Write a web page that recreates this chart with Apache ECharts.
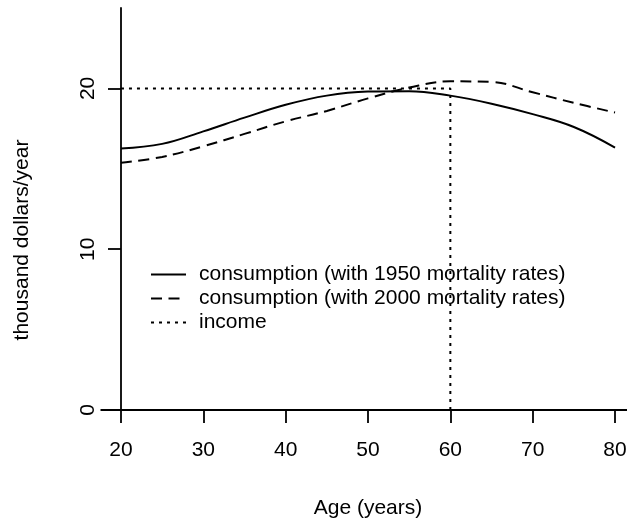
<!DOCTYPE html>
<html>
<head>
<meta charset="utf-8">
<script src="https://cdn.jsdelivr.net/npm/echarts@6/dist/echarts.min.js"></script>
<style>
html,body{margin:0;padding:0;background:#fff;}
#chart{width:627px;height:528px;}
</style>
</head>
<body>
<div id="chart"></div>
<script>
// ---- data ----
const ages1950 = [20, 25, 30, 35, 40, 45, 50, 55, 60, 65, 70, 75, 80];
const cons1950 = [16.26, 16.55, 17.33, 18.18, 18.98, 19.55, 19.8, 19.83, 19.55, 19.05, 18.4, 17.6, 16.32];
const ages2000 = [20, 25, 30, 35, 40, 45, 50, 55, 60, 65, 70, 75, 80];
const cons2000 = [15.37, 15.74, 16.4, 17.17, 17.95, 18.6, 19.38, 20.05, 20.44, 20.4, 19.76, 19.1, 18.5];
const incomeAges = [20, 60, 60, 80];
const incomeVals = [20, 20, 0, 0];
const xTicks = [20, 30, 40, 50, 60, 70, 80];
const yTicks = [0, 10, 20];
const seriesNames = ['consumption (with 1950 mortality rates)', 'consumption (with 2000 mortality rates)', 'income'];

const FONT = '"Liberation Sans", Arial, Helvetica, sans-serif';
const FS = 21;
const pair = (xs, ys) => xs.map((x, i) => [x, ys[i]]);

const chart = echarts.init(document.getElementById('chart'), null, {renderer: 'canvas'});
chart.setOption({
  animation: false,
  backgroundColor: '#fff',
  textStyle: {fontFamily: FONT, color: '#000'},
  grid: {left: 101.2, right: -7.8, top: 8, bottom: 118, containLabel: false, outerBoundsMode: 'none'},
  xAxis: {
    type: 'value', min: 17.6, max: 82.4,
    name: 'Age (years)', nameLocation: 'middle', nameGap: 88,
    nameTextStyle: {fontSize: FS, fontFamily: FONT, color: '#000'},
    axisLine: {show: true, onZero: false, lineStyle: {color: '#000', width: 1.8}},
    axisTick: {show: true, customValues: xTicks, length: 13, inside: false, lineStyle: {color: '#000', width: 1.8}},
    axisLabel: {customValues: xTicks, fontSize: FS, fontFamily: FONT, color: '#000', margin: 30},
    splitLine: {show: false}
  },
  yAxis: {
    type: 'value', min: 0, max: 25, offset: -19.8,
    name: 'thousand dollars/year', nameLocation: 'middle', nameGap: 88,
    nameTextStyle: {fontSize: FS, fontFamily: FONT, color: '#000', padding: [0, 62, 0, 0]},
    axisLine: {show: true, lineStyle: {color: '#000', width: 1.8}},
    axisTick: {show: true, customValues: yTicks, length: 13, lineStyle: {color: '#000', width: 1.8}},
    axisLabel: {customValues: yTicks, fontSize: FS, fontFamily: FONT, color: '#000', rotate: 90, margin: 22},
    splitLine: {show: false}
  },
  legend: {
    orient: 'vertical', left: 145, top: 259, itemGap: 3,
    itemWidth: 35, itemHeight: 21,
    data: seriesNames,
    itemStyle: {opacity: 0},
    textStyle: {fontSize: FS, fontFamily: FONT, color: '#000', padding: [0, 0, 0, 8]}
  },
  series: [
    {name: seriesNames[0], type: 'line', data: pair(ages1950, cons1950), smooth: 0.4, symbol: 'none',
     lineStyle: {color: '#000', width: 2, type: 'solid'}, itemStyle: {color: '#000'}},
    {name: seriesNames[1], type: 'line', data: pair(ages2000, cons2000), smooth: 0.4, symbol: 'none',
     lineStyle: {color: '#000', width: 2, type: [11, 6.5]}, itemStyle: {color: '#000'}},
    {name: seriesNames[2], type: 'line', data: pair(incomeAges, incomeVals), symbol: 'none',
     lineStyle: {color: '#000', width: 2, type: [3, 5]}, itemStyle: {color: '#000'}}
  ]
});
</script>
</body>
</html>
